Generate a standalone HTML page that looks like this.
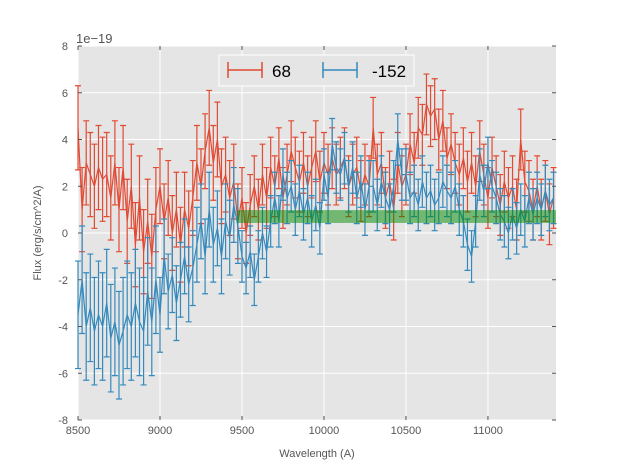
<!DOCTYPE html>
<html><head><meta charset="utf-8"><style>
body{margin:0;background:#fff;font-family:"Liberation Sans",sans-serif;}
svg text{font-family:"Liberation Sans",sans-serif;}
</style></head><body>
<svg id="chart" width="617" height="467" xmlns="http://www.w3.org/2000/svg">
<rect x="78" y="46" width="478" height="374" fill="#e5e5e5"/>
<g id="grid"></g>
<g id="series"></g>
<g id="axes"></g>
<text x="76" y="43" font-size="13" fill="#555">1e−19</text>
<text x="317" y="457" font-size="11" fill="#555" text-anchor="middle">Wavelength (A)</text>
<text transform="translate(41,233) rotate(-90)" font-size="11" fill="#555" text-anchor="middle">Flux (erg/s/cm^2/A)</text>
<g>
<rect x="219" y="55" width="195" height="31" fill="#e5e5e5" stroke="#fff" stroke-width="1"/>
<g stroke="#E24A33" stroke-width="1.5">
<line x1="228" y1="70" x2="262" y2="70"/>
<line x1="228" y1="62" x2="228" y2="78"/><line x1="262" y1="62" x2="262" y2="78"/>
</g>
<text x="272" y="77" font-size="17" fill="#000">68</text>
<g stroke="#348ABD" stroke-width="1.5">
<line x1="323" y1="70" x2="357" y2="70"/>
<line x1="323" y1="62" x2="323" y2="78"/><line x1="357" y1="62" x2="357" y2="78"/>
</g>
<text x="372" y="77" font-size="17" fill="#000">-152</text>
</g>
</svg>
<script>
const xStart = 8500, xStep = 25;
const red = [4.5,1.0,3.0,2.5,2.0,2.8,2.3,2.5,
1.5,3.0,1.0,2.8,0.5,2.0,-0.5,1.5,
-0.8,0.5,-1.0,1.0,2.0,0.5,1.5,0.0,
1.0,-0.5,1.0,0.2,1.5,3.0,2.0,3.5,
4.5,3.0,4.0,2.0,2.5,1.5,2.2,0.5,
1.5,0.0,1.2,2.0,1.0,2.5,1.5,2.8,
2.0,3.2,1.5,2.5,3.5,2.8,2.2,3.0,
2.0,2.8,3.5,2.2,3.0,2.5,3.2,2.5,
2.8,3.2,2.0,2.5,2.8,1.8,2.5,2.0,
4.5,2.5,3.0,1.5,2.2,1.0,3.0,2.0,
2.5,3.8,3.0,4.5,4.2,5.5,5.0,5.3,
4.0,4.8,3.2,3.8,3.0,2.5,3.2,2.2,
3.0,2.0,3.5,2.5,1.5,2.8,2.0,1.2,
2.2,1.5,2.0,1.0,4.0,2.2,1.8,1.0,
2.0,1.0,1.8,0.8,1.5];
const blue = [-3.5,-2.0,-4.0,-3.2,-4.2,-3.5,-4.0,-3.0,
-4.5,-3.8,-4.8,-4.2,-3.5,-4.0,-3.0,-3.8,
-4.2,-2.5,-3.8,-2.0,-3.5,-1.0,-2.5,-1.8,
-3.0,-2.0,-1.0,-2.2,-1.5,-0.5,0.5,-1.0,
1.0,-0.5,0.2,-1.0,0.5,-0.2,1.2,0.3,
-1.0,-1.5,-0.8,-2.0,-1.0,0.0,-0.8,0.5,
1.5,0.5,2.5,1.5,2.0,1.0,1.8,0.8,
1.5,0.5,1.2,0.2,2.5,1.5,3.8,2.8,
2.5,3.2,2.0,2.8,1.5,2.2,1.0,2.0,
2.0,1.2,2.2,1.5,1.0,2.0,4.0,2.5,
2.5,1.5,1.8,1.2,2.2,1.5,1.8,1.2,
1.5,2.2,1.8,1.5,2.0,1.0,0.5,-0.5,
-1.0,0.5,2.5,1.8,3.0,2.0,1.5,0.8,
0.5,0.0,0.8,0.2,1.0,0.5,1.5,0.8,
1.5,1.0,1.8,1.2,1.5];
const errBreaks = [9000, 9500, 99999];
const redErr = [1.8, 1.6, 1.3];
const blueErr = [2.3, 1.6, 1.1];
const band = [9470, 11420, 0.43, 0.98];
const xTicks = [8500,9000,9500,10000,10500,11000];
const yTicks = [-8,-6,-4,-2,0,2,4,6,8];

const X0=78, X1=556, Y0=420, Y1=46, xmin=8500, xmax=11415, ymin=-8, ymax=8;
const xs = v => X0 + (v - xmin) / (xmax - xmin) * (X1 - X0);
const ys = v => Y0 - (v - ymin) / (ymax - ymin) * (Y0 - Y1);
const NS = "http://www.w3.org/2000/svg";
function mk(tag, attrs, parent){const e=document.createElementNS(NS,tag);for(const k in attrs)e.setAttribute(k,attrs[k]);parent.appendChild(e);return e;}
const grid=document.getElementById('grid'), axes=document.getElementById('axes'), ser=document.getElementById('series');
xTicks.forEach(t=>{
  const l=mk('line',{x1:xs(t),x2:xs(t),y1:Y1,y2:Y0,stroke:'#fff','stroke-width':1},grid);
  
  
  const tx=mk('text',{x:xs(t),y:Y0+14,'font-size':11,fill:'#555','text-anchor':'middle'},axes);
  tx.textContent=t;
  
  
  mk('line',{x1:xs(t),x2:xs(t),y1:Y0,y2:Y0-4,stroke:'#555'},axes);
  mk('line',{x1:xs(t),x2:xs(t),y1:Y1,y2:Y1+4,stroke:'#555'},axes);
});
yTicks.forEach(t=>{
  const l=mk('line',{x1:X0,x2:X1,y1:ys(t),y2:ys(t),stroke:'#fff','stroke-width':1},grid);
  
  
  const tx=mk('text',{x:X0-10,y:ys(t)+4,'font-size':11,fill:'#555','text-anchor':'end'},axes);
  tx.textContent=t;
  
  
  mk('line',{x1:X0,x2:X0+4,y1:ys(t),y2:ys(t),stroke:'#555'},axes);
  mk('line',{x1:X1,x2:X1-4,y1:ys(t),y2:ys(t),stroke:'#555'},axes);
});
function errOf(arr,w){for(let i=0;i<errBreaks.length;i++)if(w<errBreaks[i])return arr[i];return arr[arr.length-1];}
function drawSeries(vals, errs, color, name){
  const g=mk('g',{stroke:color,'stroke-width':1.2,fill:'none'},ser);
  
  
  let d='';
  vals.forEach((v,i)=>{
    const w=xStart+i*xStep, x=xs(w), e=errOf(errs,w);
    if(w>xmax) return;
    d+=(d?'L':'M')+x.toFixed(1)+','+ys(v).toFixed(1);
    const eb=mk('path',{d:`M${x},${ys(v-e)}V${ys(v+e)}M${x-3},${ys(v-e)}h6M${x-3},${ys(v+e)}h6`},g);
    
    
  });
  const p=mk('path',{d:d},g);
  
  
}
drawSeries(red, redErr, '#E24A33', 'series-68');
drawSeries(blue, blueErr, '#348ABD', 'series-minus152');
const b=mk('rect',{x:xs(band[0]),y:ys(band[3]),width:Math.min(X1,xs(band[1]))-xs(band[0]),height:ys(band[2])-ys(band[3]),fill:'rgba(0,140,0,0.5)'},ser);


</script>
</body></html>
